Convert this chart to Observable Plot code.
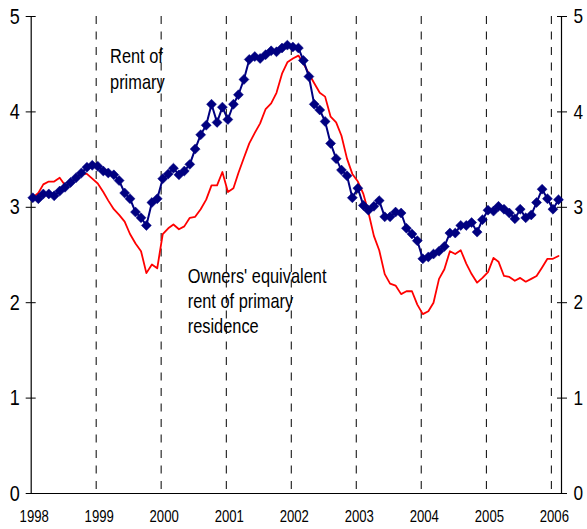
<!DOCTYPE html>
<html>
<head>
<meta charset="utf-8">
<script src="https://cdn.jsdelivr.net/npm/d3@7"></script>
<script src="https://cdn.jsdelivr.net/npm/@observablehq/plot@0.6"></script>
<style>
  html, body { margin: 0; padding: 0; background: #fff; }
  #chart svg { display: block; }
</style>
</head>
<body>
<div id="chart"></div>
<script>
// Monthly series, Jan 1998 - Feb 2006 (percent change, 12-month)
const startYear = 1998;
const rentOfPrimary = [
  3.10, 3.09, 3.14, 3.14, 3.12, 3.17, 3.21, 3.26, 3.31, 3.36, 3.42, 3.44,
  3.43, 3.38, 3.36, 3.34, 3.28, 3.15, 3.09, 2.95, 2.89, 2.81, 3.05, 3.09,
  3.30, 3.35, 3.41, 3.34, 3.38, 3.45, 3.61, 3.76, 3.86, 4.08, 3.89, 4.05,
  3.92, 4.08, 4.18, 4.34, 4.55, 4.58, 4.56, 4.60, 4.64, 4.63, 4.67, 4.70,
  4.68, 4.67, 4.54, 4.37, 4.08, 4.02, 3.90, 3.67, 3.51, 3.39, 3.33, 3.10,
  3.20, 3.02, 2.97, 3.01, 3.07, 2.90, 2.90, 2.95, 2.94, 2.78, 2.72, 2.65,
  2.46, 2.48, 2.51, 2.54, 2.59, 2.73, 2.73, 2.81, 2.81, 2.84, 2.74, 2.87,
  2.97, 2.96, 3.01, 2.98, 2.94, 2.88, 2.98, 2.89, 2.92, 3.05, 3.19, 3.09,
  2.98, 3.08
];
const ownersEquivalentRent = [
  3.10, 3.15, 3.24, 3.27, 3.27, 3.31, 3.23, 3.25, 3.30, 3.35, 3.35, 3.30,
  3.25, 3.16, 3.07, 2.98, 2.92, 2.85, 2.72, 2.62, 2.54, 2.31, 2.40, 2.36,
  2.72, 2.78, 2.82, 2.77, 2.80, 2.89, 2.90, 2.98, 3.08, 3.23, 3.23, 3.37,
  3.16, 3.20, 3.36, 3.52, 3.67, 3.78, 3.88, 4.03, 4.09, 4.20, 4.40, 4.52,
  4.56, 4.59, 4.51, 4.40, 4.30, 4.20, 4.16, 3.95, 3.89, 3.75, 3.51, 3.35,
  3.27, 3.14, 2.95, 2.70, 2.55, 2.30, 2.20, 2.18, 2.09, 2.12, 2.12, 1.98,
  1.88, 1.91, 2.00, 2.25, 2.35, 2.54, 2.51, 2.55, 2.41, 2.30, 2.21, 2.26,
  2.32, 2.47, 2.43, 2.28, 2.27, 2.23, 2.26, 2.22, 2.25, 2.28, 2.37, 2.46,
  2.46, 2.49
];
const yearTicks = [1998, 1999, 2000, 2001, 2002, 2003, 2004, 2005, 2006];
const gridYears = [1999, 2000, 2001, 2002, 2003, 2004, 2005, 2006];
const yTicks = [0, 1, 2, 3, 4, 5];
const labels = [
  {text: "Rent of\nprimary", date: [1999, 2, 20], value: 4.70},
  {text: "Owners' equivalent\nrent of primary\nresidence", date: [2000, 4, 29], value: 2.40}
];

const FONT = "'Liberation Sans', Arial, sans-serif";
const NARROW = 0.82; // the reference uses a condensed sans face
const utc = (y, m = 0, d = 1) => new Date(Date.UTC(y, m, d));

const data = rentOfPrimary.map((v, i) => ({
  date: utc(startYear, i, 10),
  rent: v,
  owners: ownersEquivalentRent[i]
}));
const xStart = utc(1998, 0, 1);
const xEnd = utc(2006, 1, 27);

const chart = Plot.plot({
  width: 587,
  height: 529,
  marginLeft: 30.7,
  marginRight: 26,
  marginTop: 16,
  marginBottom: 36,
  style: {fontFamily: FONT, background: "#fff", color: "#000", overflow: "visible"},
  x: {type: "utc", domain: [xStart, xEnd]},
  y: {domain: [0, 5]},
  marks: [
    Plot.ruleX(gridYears.map(y => utc(y)), {stroke: "#000", strokeWidth: 1, strokeDasharray: "8,7.5"}),
    Plot.axisX(yearTicks.map(y => utc(y)), {tickSize: 0, tickPadding: 17, tickFormat: "%Y", fontSize: 16, dx: 3, label: null}),
    Plot.axisY(yTicks, {anchor: "left", tickSize: 10, dx: 5, tickPadding: 6.5, tickFormat: d => String(d), fontSize: 22, label: null}),
    Plot.axisY(yTicks, {anchor: "right", tickSize: 10, dx: -5, tickPadding: 7, tickFormat: d => String(d), fontSize: 21, label: null}),
    Plot.ruleY([0], {stroke: "#000", strokeWidth: 1.2}),
    Plot.ruleX([xStart], {stroke: "#000", strokeWidth: 1.2}),
    Plot.ruleX([xEnd], {stroke: "#000", strokeWidth: 1.2}),
    Plot.line(data, {x: "date", y: "owners", stroke: "#ff0000", strokeWidth: 1.8}),
    Plot.line(data, {x: "date", y: "rent", stroke: "#000080", strokeWidth: 2}),
    Plot.dot(data, {x: "date", y: "rent", symbol: "diamond2", r: 4.5, fill: "#000080", stroke: "#000080", strokeWidth: 0.5}),
    Plot.text(labels, {
      x: d => utc(...d.date), y: "value", text: "text",
      textAnchor: "start", lineAnchor: "top", lineHeight: 1.27,
      fontSize: 20, fill: "#000"
    })
  ]
});
// condense every text horizontally around its own anchor point
chart.querySelectorAll("text").forEach(t => {
  const tr = t.getAttribute("transform");
  if (tr) {
    t.setAttribute("transform", tr + ` scale(${NARROW},1)`);
  } else {
    const x = +(t.getAttribute("x") || 0);
    t.setAttribute("transform", `translate(${x},0) scale(${NARROW},1) translate(${-x},0)`);
  }
});
document.getElementById("chart").appendChild(chart);
</script>
</body>
</html>
